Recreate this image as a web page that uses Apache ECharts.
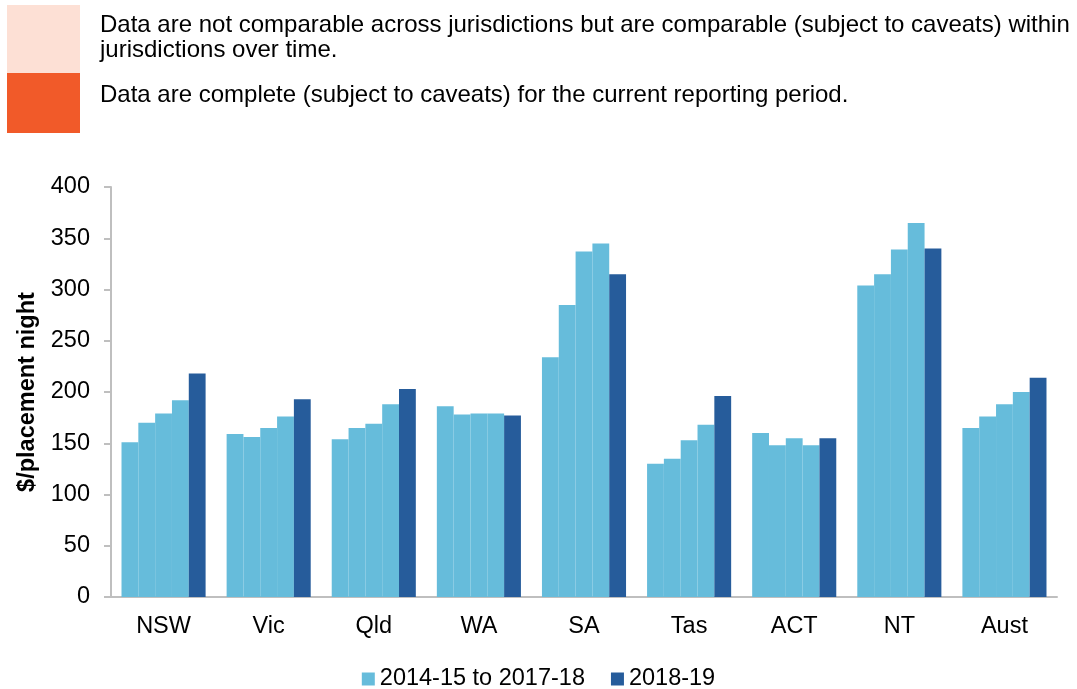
<!DOCTYPE html>
<html>
<head>
<meta charset="utf-8">
<script src="https://cdn.jsdelivr.net/npm/echarts@6/dist/echarts.min.js"></script>
<style>
html,body{margin:0;padding:0;background:#fff;}
#chart{width:1077px;height:689px;}
</style>
</head>
<body>
<div id="chart"></div>
<script>
// categories and values
var categories = ['NSW', 'Vic', 'Qld', 'WA', 'SA', 'Tas', 'ACT', 'NT', 'Aust'];
var y2014_15 = [151, 159, 154, 186, 234, 130, 160, 304, 165];
var y2015_16 = [170, 156, 165, 178, 285, 135, 148, 315, 176];
var y2016_17 = [179, 165, 169, 179, 337, 153, 155, 339, 188];
var y2017_18 = [192, 176, 188, 179, 345, 168, 148, 365, 200];
var y2018_19 = [218, 193, 203, 177, 315, 196, 155, 340, 214];
var yTicks = [0, 50, 100, 150, 200, 250, 300, 350, 400];

var lightName = '2014-15 to 2017-18';
var darkName = '2018-19';
var lightColor = '#66bcdb';
var darkColor = '#265c9b';
var font = 'Liberation Sans, Arial, sans-serif';

var chart = echarts.init(document.getElementById('chart'));

function lightBar(data) {
	return {
		name: lightName,
		type: 'bar',
		data: data,
		barGap: '0%',
		barCategoryGap: '20%',
		itemStyle: {color: lightColor},
		emphasis: {disabled: true}
	};
}

//header note boxes
function note(y, txt) {
	return {type: 'text', x: 100, y: y, style: {text: txt, font: '24px ' + font, fill: '#000', verticalAlign: 'middle'}};
}

var option = {
	animation: false,
	textStyle: {fontFamily: font},
	graphic: [
		{type: 'rect', x: 7, y: 5, shape: {width: 73, height: 68}, style: {fill: '#fde0d5'}},
		{type: 'rect', x: 7, y: 73, shape: {width: 73, height: 60}, style: {fill: '#f15a29'}},
		note(25, 'Data are not comparable across jurisdictions but are comparable (subject to caveats) within'),
		note(50, 'jurisdictions over time.'),
		note(95, 'Data are complete (subject to caveats) for the current reporting period.')
	],
	legend: {
		data: [lightName, darkName],
		top: 662,
		left: 'center',
		icon: 'rect',
		itemWidth: 13,
		itemHeight: 13,
		itemGap: 26,
		textStyle: {fontSize: 23.5, color: '#000', fontFamily: font}
	},
	grid: {left: 111, right: 20, top: 187, bottom: 92},
	xAxis: {
		type: 'category',
		data: categories,
		axisLine: {lineStyle: {color: '#bfbfbf', width: 2}},
		axisTick: {show: false},
		axisLabel: {fontSize: 23.5, color: '#000', margin: 18}
	},
	yAxis: {
		type: 'value',
		min: yTicks[0],
		max: yTicks[yTicks.length - 1],
		interval: 50,
		name: '$/placement night',
		nameLocation: 'middle',
		nameGap: 69,
		nameTextStyle: {fontSize: 23.5, fontWeight: 'bold', color: '#000'},
		axisLine: {show: true, lineStyle: {color: '#bfbfbf', width: 2}},
		axisTick: {show: true, length: 7, lineStyle: {color: '#bfbfbf', width: 2}},
		splitLine: {show: false},
		axisLabel: {fontSize: 23.5, color: '#000', margin: 21}
	},
	series: [
		lightBar(y2014_15),
		lightBar(y2015_16),
		lightBar(y2016_17),
		lightBar(y2017_18),
		{
			name: darkName,
			type: 'bar',
			data: y2018_19,
			barGap: '0%',
			barCategoryGap: '20%',
			itemStyle: {color: darkColor},
			emphasis: {disabled: true}
		}
	]
};
chart.setOption(option);
</script>
</body>
</html>
